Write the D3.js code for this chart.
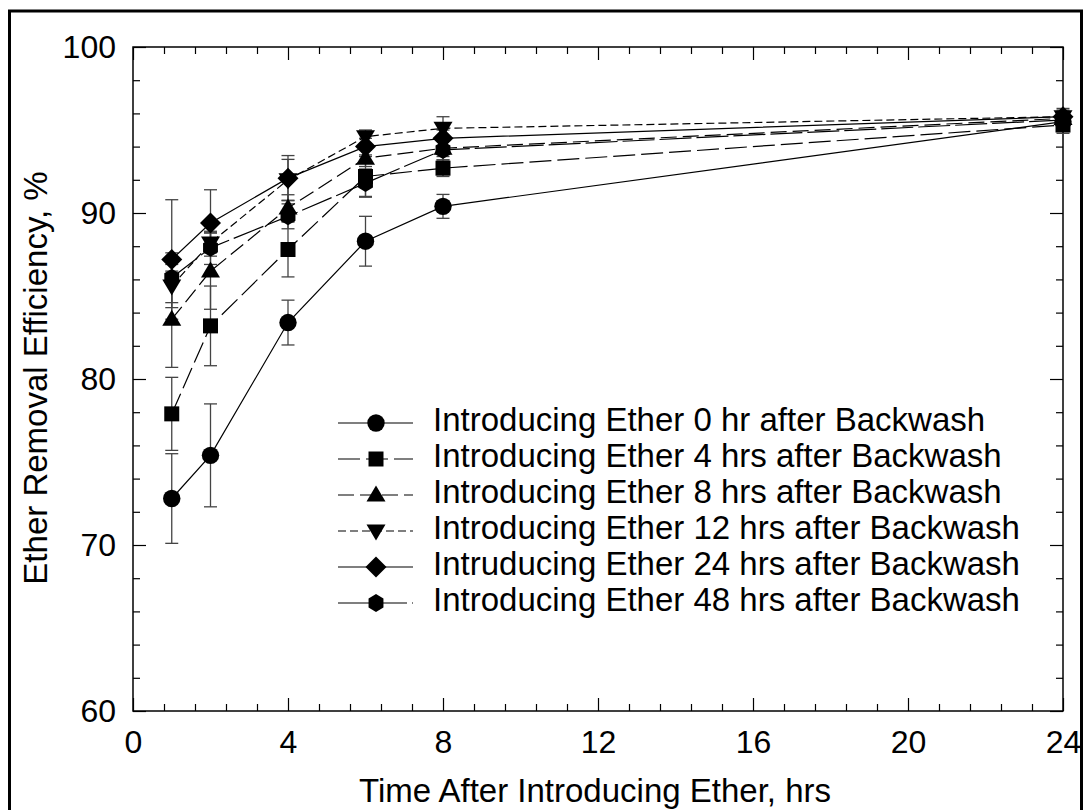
<!DOCTYPE html>
<html>
<head>
<meta charset="utf-8">
<script src="https://cdn.jsdelivr.net/npm/d3@7"></script>
<style>
  html, body { margin: 0; padding: 0; background: #fff; }
  svg { display: block; }
  text { font-family: "Liberation Sans", Arial, sans-serif; fill: #000; }
</style>
</head>
<body>
<svg id="chart" width="1086" height="810"></svg>
<script>
// ---------------- data ----------------
const hours = [1, 2, 4, 6, 8, 24];

const labels = [
  "Introducing Ether 0 hr after Backwash",
  "Introducing Ether 4 hrs after Backwash",
  "Introducing Ether 8 hrs after Backwash",
  "Introducing Ether 12 hrs after Backwash",
  "Intruducing Ether 24 hrs after Backwash",
  "Introducing Ether 48 hrs after Backwash"
];

const eff0hr  = [72.8, 75.4, 83.4, 88.3, 90.4, 95.5];
const eff4hr  = [77.9, 83.2, 87.8, 92.2, 92.7, 95.3];
const eff8hr  = [83.6, 86.5, 90.3, 93.3, 93.9, 95.7];
const eff12hr = [85.6, 88.2, 92.0, 94.6, 95.1, 95.8];
const eff24hr = [87.2, 89.4, 92.1, 94.0, 94.5, 95.8];
const eff48hr = [86.1, 87.9, 89.8, 91.8, 93.8, 95.6];

const err0hr  = [2.7, 3.1, 1.35, 1.5, 0.72, 0.4];
const err4hr  = [2.2, 2.4, 1.65, 1.2, 0.5, 0.5];
const err8hr  = [2.9, 2.3, 0.8, 0.5, 0.5, 0.4];
const err12hr = [1.3, 0.6, 1.23, 0.4, 0.7, 0.4];
const err24hr = [3.6, 2.0, 1.36, 0.5, 0.5, 0.5];
const err48hr = [1.5, 1.0, 0.75, 0.85, 0.6, 0.4];

const xMajorTicks = [0, 4, 8, 12, 16, 20, 24];
const yMajorTicks = [60, 70, 80, 90, 100];

const xTitle = "Time After Introducing Ether, hrs";
const yTitle = "Ether Removal Efficiency, %";

// ---------------- styles ----------------
const markers = ["circle", "square", "triangle", "triangleDown", "diamond", "hexagon"];
const dashes  = [null, "22,6", "16,6", "8,4", null, "32,5"];

const seriesVals = [eff0hr, eff4hr, eff8hr, eff12hr, eff24hr, eff48hr];
const seriesErrs = [err0hr, err4hr, err8hr, err12hr, err24hr, err48hr];
const series = labels.map((name, i) => ({
  name, marker: markers[i], dash: dashes[i],
  points: hours.map((h, j) => ({ x: h, y: seriesVals[i][j], e: seriesErrs[i][j] }))
}));

// ---------------- layout ----------------
const svg = d3.select("#chart");
const L = 133, R = 1063, T = 47, B = 711;
const x = d3.scaleLinear().domain([0, 24]).range([L, R]);
const y = d3.scaleLinear().domain([60, 100]).range([B, T]);

// outer frame
svg.append("rect").attr("x", 9.5).attr("y", 11).attr("width", 1072).attr("height", 830)
  .attr("fill", "none").attr("stroke", "#000").attr("stroke-width", 3);

const xMinor = d3.range(0, 24.001, 0.8).filter(v => !xMajorTicks.some(m => Math.abs(m - v) < 1e-6));
const yMinor = d3.range(60, 100.001, 2).filter(v => !yMajorTicks.some(m => Math.abs(m - v) < 1e-6));

function styleAxis(g) {
  g.select(".domain").remove();
  g.selectAll(".tick line").attr("stroke", "#000").attr("stroke-width", 1.2);
  g.selectAll(".tick text").style("font-size", "32px").style("font-family", '"Liberation Sans", Arial, sans-serif');
}

// bottom
svg.append("g").attr("transform", `translate(0,${B})`)
  .call(d3.axisBottom(x).tickValues(xMajorTicks).tickSizeInner(-13).tickSizeOuter(0).tickPadding(19).tickFormat(d3.format("d")))
  .call(styleAxis);
svg.append("g").attr("transform", `translate(0,${B})`)
  .call(d3.axisBottom(x).tickValues(xMinor).tickSizeInner(-7).tickSizeOuter(0).tickFormat(""))
  .call(styleAxis);
// top
svg.append("g").attr("transform", `translate(0,${T})`)
  .call(d3.axisTop(x).tickValues(xMajorTicks).tickSizeInner(-13).tickSizeOuter(0).tickFormat(""))
  .call(styleAxis);
svg.append("g").attr("transform", `translate(0,${T})`)
  .call(d3.axisTop(x).tickValues(xMinor).tickSizeInner(-7).tickSizeOuter(0).tickFormat(""))
  .call(styleAxis);
// left
svg.append("g").attr("transform", `translate(${L},0)`)
  .call(d3.axisLeft(y).tickValues(yMajorTicks).tickSizeInner(-13).tickSizeOuter(0).tickPadding(17).tickFormat(d3.format("d")))
  .call(styleAxis);
svg.append("g").attr("transform", `translate(${L},0)`)
  .call(d3.axisLeft(y).tickValues(yMinor).tickSizeInner(-7).tickSizeOuter(0).tickFormat(""))
  .call(styleAxis);
// right
svg.append("g").attr("transform", `translate(${R},0)`)
  .call(d3.axisRight(y).tickValues(yMajorTicks).tickSizeInner(-13).tickSizeOuter(0).tickFormat(""))
  .call(styleAxis);
svg.append("g").attr("transform", `translate(${R},0)`)
  .call(d3.axisRight(y).tickValues(yMinor).tickSizeInner(-7).tickSizeOuter(0).tickFormat(""))
  .call(styleAxis);

// plot frame
svg.append("rect").attr("x", L).attr("y", T).attr("width", R - L).attr("height", B - T)
  .attr("fill", "none").attr("stroke", "#000").attr("stroke-width", 1.5);

// axis titles
svg.append("text").attr("x", 595).attr("y", 802).attr("text-anchor", "middle")
  .style("font-size", "33px").text(xTitle);
svg.append("text").attr("transform", "translate(47,378) rotate(-90)").attr("text-anchor", "middle")
  .style("font-size", "33px").text(yTitle);

// ---------------- marker shapes ----------------
function markerPath(type) {
  const p = d3.path();
  if (type === "circle") { p.arc(0, 0, 8.7, 0, 2 * Math.PI); }
  else if (type === "square") { p.rect(-7.5, -7.5, 15, 15); }
  else if (type === "triangle") { p.moveTo(0, -9.5); p.lineTo(9.5, 6.5); p.lineTo(-9.5, 6.5); p.closePath(); }
  else if (type === "triangleDown") { p.moveTo(0, 9.5); p.lineTo(9.5, -6.5); p.lineTo(-9.5, -6.5); p.closePath(); }
  else if (type === "diamond") { p.moveTo(0, -10.5); p.lineTo(10.5, 0); p.lineTo(0, 10.5); p.lineTo(-10.5, 0); p.closePath(); }
  else if (type === "hexagon") {
    for (let k = 0; k < 6; k++) {
      const a = -Math.PI / 2 + k * Math.PI / 3;
      const px = 8.6 * Math.cos(a), py = 9.0 * Math.sin(a);
      if (k === 0) p.moveTo(px, py); else p.lineTo(px, py);
    }
    p.closePath();
  }
  return p.toString();
}

const plot = svg.append("g");

// error bars
series.forEach(s => {
  const g = plot.append("g");
  s.points.forEach(pt => {
    const cx = x(pt.x), y1 = y(pt.y + pt.e), y2 = y(pt.y - pt.e);
    g.append("line").attr("x1", cx).attr("x2", cx).attr("y1", y1).attr("y2", y2)
      .attr("stroke", "#444").attr("stroke-width", 1.3);
    [y1, y2].forEach(yy => g.append("line").attr("x1", cx - 6.5).attr("x2", cx + 6.5)
      .attr("y1", yy).attr("y2", yy).attr("stroke", "#444").attr("stroke-width", 1.3));
  });
});

// lines
const lineGen = d3.line().x(d => x(d.x)).y(d => y(d.y));
series.forEach(s => {
  plot.append("path").datum(s.points).attr("d", lineGen)
    .attr("fill", "none").attr("stroke", "#000").attr("stroke-width", 1.2)
    .attr("stroke-dasharray", s.dash);
});

// markers
series.forEach(s => {
  plot.append("g").selectAll("path").data(s.points).join("path")
    .attr("d", markerPath(s.marker))
    .attr("transform", d => `translate(${x(d.x)},${y(d.y)})`)
    .attr("fill", "#000");
});

// ---------------- legend ----------------
const legRowY = d3.range(series.length).map(i => 423 + i * 36);
const leg = svg.append("g");
series.forEach((s, i) => {
  const ly = legRowY[i];
  leg.append("line").attr("x1", 338).attr("x2", 413).attr("y1", ly).attr("y2", ly)
    .attr("stroke", "#000").attr("stroke-width", 1.2).attr("stroke-dasharray", s.dash);
  leg.append("path").attr("d", markerPath(s.marker)).attr("transform", `translate(376,${ly})`).attr("fill", "#000");
  leg.append("text").attr("x", 433).attr("y", ly + 8).style("font-size", "33px").text(s.name);
});
</script>
</body>
</html>
